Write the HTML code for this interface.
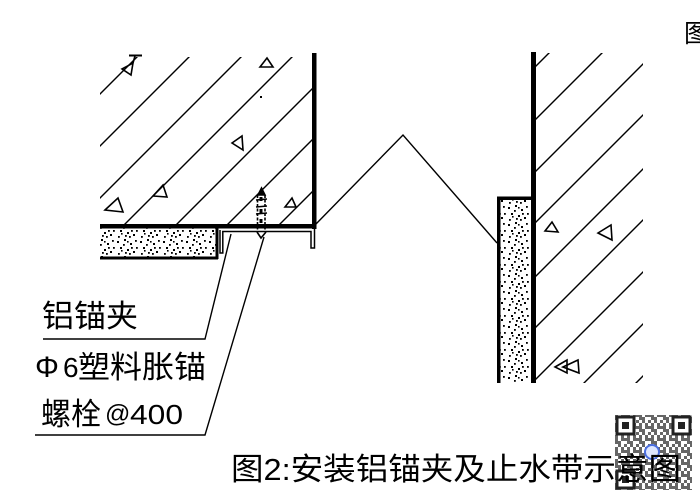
<!DOCTYPE html>
<html><head><meta charset="utf-8"><style>
html,body{margin:0;padding:0;background:#fff;}
svg{display:block;}
text{font-family:"Liberation Sans","Noto Sans CJK SC",sans-serif;fill:#000;}
</style></head><body>
<svg width="700" height="500" viewBox="0 0 700 500" xmlns="http://www.w3.org/2000/svg">
<defs>
<pattern id="dots" width="23" height="17" patternUnits="userSpaceOnUse">
<g fill="#000">
<rect x="2" y="3" width="2" height="2"/><rect x="9" y="1" width="2" height="2"/>
<rect x="15" y="5" width="2" height="2"/><rect x="20" y="2" width="1.8" height="1.8"/>
<rect x="5" y="9" width="2" height="2"/><rect x="12" y="11" width="2" height="2"/>
<rect x="18" y="13" width="2" height="2"/><rect x="3" y="15" width="1.8" height="1.8"/>
<rect x="8" y="6" width="1.8" height="1.8"/><rect x="21" y="9" width="1.8" height="1.8"/>
<rect x="14" y="15" width="1.8" height="1.8"/><rect x="10" y="14" width="1.8" height="1.8"/>
<rect x="16" y="9" width="1.8" height="1.8"/><rect x="6" y="12" width="1.6" height="1.6"/>
<rect x="12" y="3" width="1.6" height="1.6"/>
</g>
</pattern>
<pattern id="qr" width="12" height="12" patternUnits="userSpaceOnUse">
<g fill="#333">
<rect x="0" y="0" width="3" height="3"/><rect x="6" y="0" width="3" height="3"/>
<rect x="3" y="3" width="3" height="3"/><rect x="9" y="3" width="3" height="3"/>
<rect x="0" y="6" width="6" height="3"/><rect x="9" y="6" width="3" height="3"/>
<rect x="6" y="9" width="3" height="3"/><rect x="3" y="9" width="3" height="3"/>
</g>
</pattern>
<clipPath id="cl"><rect x="100" y="57" width="212" height="167"/></clipPath>
<clipPath id="cr"><rect x="536" y="53" width="107" height="330"/></clipPath>
</defs>

<!-- left hatching -->
<g clip-path="url(#cl)" stroke="#000" stroke-width="1.4">
<line x1="-106" y1="300" x2="194" y2="0"/>
<line x1="-54" y1="300" x2="246" y2="0"/>
<line x1="-2" y1="300" x2="298" y2="0"/>
<line x1="49" y1="300" x2="349" y2="0"/>
<line x1="101" y1="300" x2="401" y2="0"/>
<line x1="152" y1="300" x2="452" y2="0"/>
<line x1="204" y1="300" x2="504" y2="0"/>
</g>
<!-- marker top-left -->
<g stroke="#000" stroke-width="1.6" fill="none">
<line x1="129" y1="55.5" x2="142" y2="55.5" stroke-width="2"/>
<line x1="135" y1="56" x2="133" y2="63"/>
<polygon points="122,69 133,63 131,75"/>
</g>
<!-- left triangles -->
<g stroke="#000" stroke-width="1.6" fill="none">
<polygon points="260,67 267,58 273,67"/>
<polygon points="232,143 242,136 243,150"/>
<polygon points="153,196 163,185 167,197"/>
<polygon points="105,210 118,198 123,212"/>
<polygon points="285,207 292,198 296,207"/>
</g>
<rect x="260" y="96" width="2" height="2" fill="#000"/>

<!-- left wall -->
<rect x="312" y="53" width="4.5" height="176" fill="#000"/>
<rect x="100" y="224" width="216" height="4.5" fill="#000"/>

<!-- left pad -->
<rect x="100" y="228" width="117" height="30" fill="url(#dots)"/>
<rect x="100" y="256.5" width="118" height="3" fill="#000"/>
<rect x="215.5" y="228" width="3" height="31" fill="#000"/>

<!-- clip -->
<g stroke="#000" stroke-width="1.5" fill="none">
<polyline points="220,230 220,253 222.8,253 222.8,231.5 311,231.5 311,248 314.5,248 314.5,228"/>
</g>

<!-- bolt -->
<g stroke="#000" stroke-width="1.6" fill="none">
<polygon points="258,195 261.5,188 265,195" fill="#000"/>
<line x1="257.5" y1="195" x2="257.5" y2="232" stroke-dasharray="3,1.5"/>
<line x1="265" y1="195" x2="265" y2="232" stroke-dasharray="3,1.5"/>
<line x1="256" y1="200" x2="267" y2="199"/>
<line x1="256" y1="207" x2="267" y2="206"/>
<line x1="256" y1="214" x2="267" y2="213"/>
<polyline points="257,232 261,238 266,232"/>
</g>
<rect x="259.5" y="197" width="3" height="4" fill="#000"/>
<rect x="259.5" y="209" width="3" height="4" fill="#000"/>
<rect x="259.5" y="219" width="3" height="4" fill="#000"/>

<!-- leaders -->
<g stroke="#000" stroke-width="1.4" fill="none">
<polyline points="231,234 205,339 43,339"/>
<polyline points="264,237 205,435 35,435"/>
</g>

<!-- zigzag -->
<polyline points="316,224 403,135 497,243" stroke="#000" stroke-width="1.4" fill="none"/>

<!-- right hatching -->
<g clip-path="url(#cr)" stroke="#000" stroke-width="1.4">
<line x1="302" y1="300" x2="602" y2="0"/>
<line x1="255" y1="400" x2="655" y2="0"/>
<line x1="307" y1="400" x2="707" y2="0"/>
<line x1="358" y1="400" x2="758" y2="0"/>
<line x1="412" y1="400" x2="812" y2="0"/>
<line x1="463" y1="400" x2="863" y2="0"/>
<line x1="515" y1="400" x2="915" y2="0"/>
<line x1="567" y1="400" x2="967" y2="0"/>
<line x1="619" y1="400" x2="1019" y2="0"/>
</g>
<g stroke="#000" stroke-width="1.6" fill="none">
<polygon points="545,231 552,222 558,232"/>
<polygon points="598,233 611,225 612,240"/>
<polygon points="555,367 567,360 567,373"/>
<polygon points="563,367 578,360 579,373"/>
</g>

<!-- right strip -->
<rect x="499" y="199" width="33" height="184" fill="url(#dots)"/>
<rect x="497" y="196.5" width="38" height="3.5" fill="#000"/>
<rect x="497" y="196.5" width="3.5" height="186.5" fill="#000"/>
<rect x="531" y="52" width="5" height="331" fill="#000"/>

<!-- labels -->
<text x="42" y="327" font-size="31" textLength="96" lengthAdjust="spacingAndGlyphs">铝锚夹</text>
<text x="35" y="377" font-size="30">Φ</text>
<text x="63" y="377" font-size="28">6</text>
<text x="78" y="378" font-size="31" textLength="128" lengthAdjust="spacingAndGlyphs">塑料胀锚</text>
<text x="41" y="425" font-size="31" textLength="60" lengthAdjust="spacingAndGlyphs">螺栓</text>
<text x="105" y="422" font-size="25">@</text>
<text x="130" y="424" font-size="28" textLength="53" lengthAdjust="spacingAndGlyphs">400</text>

<!-- QR -->
<rect x="615" y="415" width="77" height="75" fill="#fff"/>
<rect x="615" y="415" width="77" height="75" fill="url(#qr)" opacity="0.75"/>
<g fill="#fff" stroke="#222" stroke-width="3">
<rect x="617" y="417" width="17" height="17"/>
<rect x="673" y="417" width="17" height="17"/>
<rect x="617" y="471" width="17" height="17"/>
</g>
<g fill="#222">
<rect x="622" y="422" width="7" height="7"/>
<rect x="678" y="422" width="7" height="7"/>
<rect x="622" y="476" width="7" height="7"/>
</g>
<circle cx="652" cy="452" r="7" fill="#dde6ff" stroke="#4a6ee0" stroke-width="2"/>

<!-- title -->
<text x="231" y="480" font-size="31" textLength="450" lengthAdjust="spacingAndGlyphs">图2:安装铝锚夹及止水带示意图</text>

<!-- top-right partial glyph -->
<text x="684" y="42" font-size="25">图</text>
</svg>
</body></html>
